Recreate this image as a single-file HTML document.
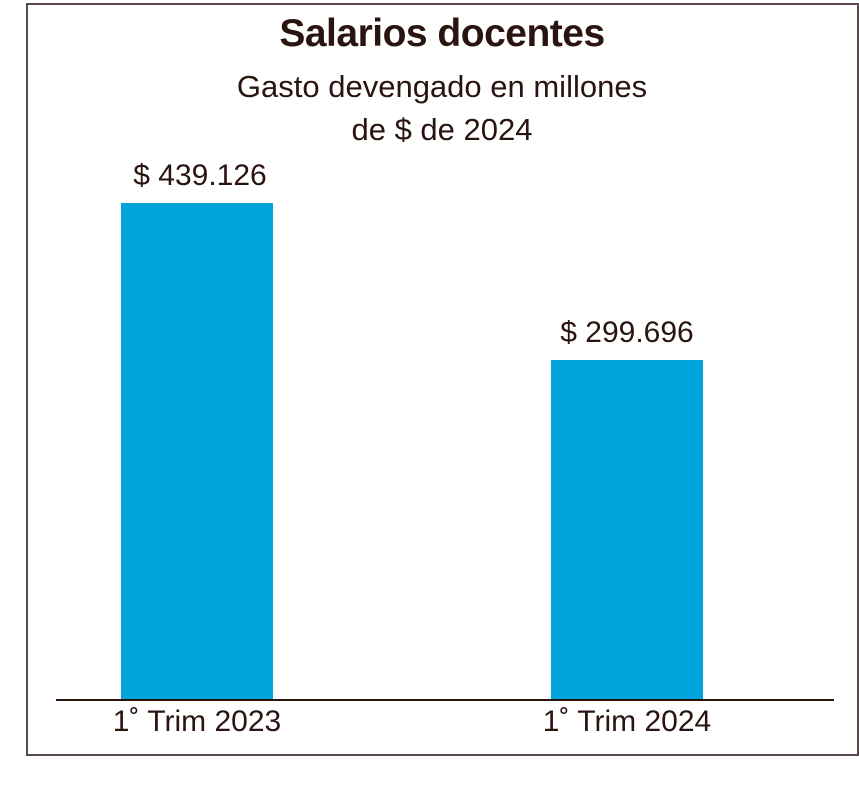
<!DOCTYPE html>
<html><head><meta charset="utf-8"><style>
body{margin:0;background:#fff;width:859px;height:800px;position:relative;overflow:hidden;font-family:"Liberation Sans",sans-serif;color:#2a1410}
.box{position:absolute;left:26px;top:3px;width:829px;height:749px;border:2px solid #5a4a4a}
.t{position:absolute;left:0;width:884px;text-align:center;white-space:nowrap}
.bar{position:absolute;background:#00a3dc}
</style></head><body>
<div class="box"></div>
<div class="t" style="top:12px;font-size:39px;font-weight:bold;letter-spacing:-0.5px">Salarios docentes</div>
<div class="t" style="top:65px;font-size:31px;line-height:43px">Gasto devengado en millones<br>de $ de 2024</div>
<div class="bar" style="left:121px;top:203px;width:152px;height:497px"></div>
<div class="bar" style="left:551px;top:360px;width:152px;height:340px"></div>
<div style="position:absolute;left:56px;top:699px;width:778px;height:2px;background:#2a1410"></div>
<div class="t" style="left:100px;width:200px;top:159px;font-size:30px">$ 439.126</div>
<div class="t" style="left:527px;width:200px;top:316px;font-size:30px">$ 299.696</div>
<div class="t" style="left:97px;width:200px;top:705px;font-size:30px">1˚ Trim 2023</div>
<div class="t" style="left:527px;width:200px;top:705px;font-size:30px">1˚ Trim 2024</div>
</body></html>
